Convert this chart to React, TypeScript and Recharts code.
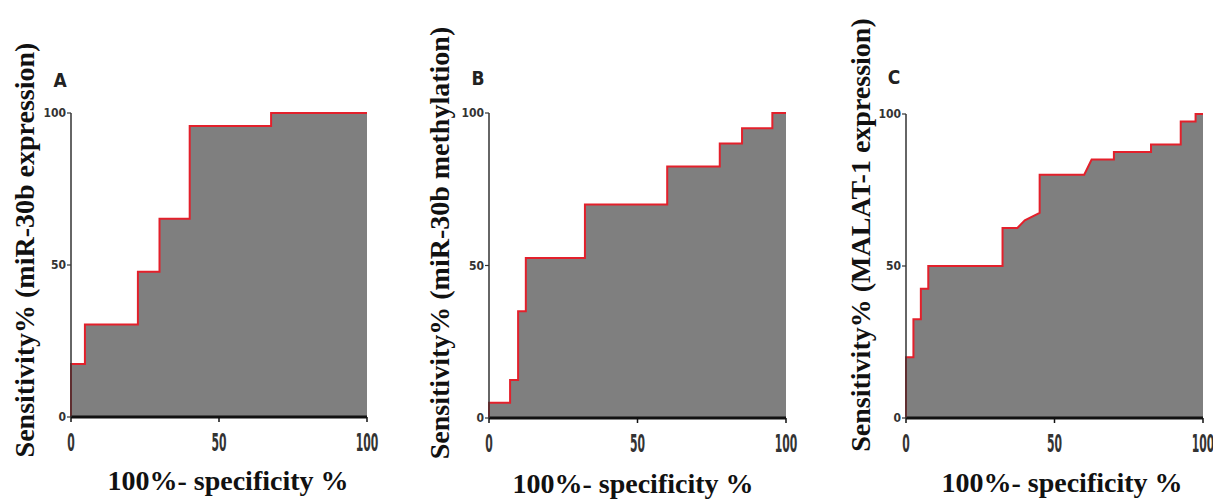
import { Area, AreaChart, XAxis, YAxis } from 'recharts';

// ROC points (1 - specificity %, sensitivity %)
const rocAX = [0, 0, 4.7, 4.7, 22.6, 22.6, 29.9, 29.9, 40.1, 40.1, 67.6, 67.6, 100];
const rocAY = [0, 17.4, 17.4, 30.4, 30.4, 47.8, 47.8, 65.2, 65.2, 95.7, 95.7, 100, 100];

const rocBX = [0, 0, 7.1, 7.1, 9.8, 9.8, 12.4, 12.4, 32.3, 32.3, 60, 60, 77.7, 77.7, 85.2, 85.2, 95.4, 95.4, 100];
const rocBY = [0, 5, 5, 12.5, 12.5, 35, 35, 52.5, 52.5, 70, 70, 82.5, 82.5, 90, 90, 95, 95, 100, 100];

const rocCX = [0, 0, 2.5, 2.5, 5, 5, 7.5, 7.5, 32.5, 32.5, 37.5, 40, 45, 45, 60, 62.5, 70, 70, 82.5, 82.5, 92.5, 92.5, 97.5, 97.5, 100];
const rocCY = [0, 20, 20, 32.5, 32.5, 42.5, 42.5, 50, 50, 62.5, 62.5, 65, 67.5, 80, 80, 85, 85, 87.5, 87.5, 90, 90, 97.5, 97.5, 100, 100];

const axisTicks = [0, 50, 100];
const panelLetters = ['A', 'B', 'C'];
const yTitles = [
    'Sensitivity% (miR-30b expression)',
    'Sensitivity% (miR-30b methylation)',
    'Sensitivity% (MALAT-1 expression)',
];
const xTitle = '100%- specificity %';

const zip = (xs: number[], ys: number[]) => xs.map((x, i) => ({ x, y: ys[i] }));

const NARROW = "'Liberation Sans Narrow', 'Arial Narrow', 'DejaVu Sans Condensed', sans-serif";
const SERIF = "'Liberation Serif', 'Times New Roman', serif";

const XTick = ({ x, y, payload }: any) => (
    <text
        x={0}
        y={0}
        transform={`translate(${x},${y + 12}) scale(1,2)`}
        textAnchor="middle"
        dy="0.71em"
        fontSize={12}
        fontFamily={NARROW}
        fontWeight="bold"
        fill="#333"
    >
        {payload.value}
    </text>
);

interface PanelProps {
    data: { x: number; y: number }[];
    left: number;
    width: number;
    margin: { top: number; right: number; bottom: number; left: number };
}

function RocPanel({ data, left, width, margin }: PanelProps) {
    return (
        <div style={{ position: 'absolute', left, top: 0 }}>
            <AreaChart width={width} height={499} data={data} margin={margin}>
                <XAxis
                    dataKey="x"
                    type="number"
                    domain={[0, 100]}
                    ticks={axisTicks}
                    height={30}
                    axisLine={{ stroke: '#111', strokeWidth: 3 }}
                    tickLine={{ stroke: '#111', strokeWidth: 1.5 }}
                    tickSize={5}
                    tickMargin={0}
                    tick={<XTick />}
                    interval={0}
                />
                <YAxis
                    type="number"
                    domain={[0, 100]}
                    ticks={axisTicks}
                    width={40}
                    axisLine={{ stroke: '#333', strokeWidth: 1.5 }}
                    tickLine={{ stroke: '#333', strokeWidth: 1.2 }}
                    tickSize={4}
                    tickMargin={1}
                    tick={{
                        fontSize: 12,
                        fontFamily: NARROW,
                        fontWeight: 'bold',
                        fill: '#333',
                    }}
                    interval={0}
                />
                <Area
                    dataKey="y"
                    type="linear"
                    stroke="#e3202b"
                    strokeWidth={2}
                    fill="#7f7f7f"
                    fillOpacity={1}
                    dot={false}
                    activeDot={false}
                    isAnimationActive={false}
                />
            </AreaChart>
        </div>
    );
}

// label placement per panel: [letter x, letter y, y title x, y title y, x title x, x title baseline]
const labelPos = [
    [60, 80, 25, 250, 228, 490],
    [478, 78, 440, 243, 633, 493],
    [894, 77, 861, 235, 1062, 492],
];

export default function App() {
    const panels = [
        { data: zip(rocAX, rocAY), left: 0, width: 400, margin: { top: 113, right: 33, bottom: 52, left: 31 } },
        { data: zip(rocBX, rocBY), left: 400, width: 420, margin: { top: 113, right: 34, bottom: 51, left: 49 } },
        { data: zip(rocCX, rocCY), left: 820, width: 393, margin: { top: 114, right: 10, bottom: 51, left: 46 } },
    ];

    return (
        <div
            style={{
                position: 'absolute',
                left: 0,
                top: 0,
                width: 1213,
                height: 499,
                background: '#fff',
                overflow: 'hidden',
            }}
        >
            {panels.map((p, i) => (
                <RocPanel key={i} {...p} />
            ))}
            {labelPos.map(([lx, ly, tx, ty, xx, xb], i) => (
                <div key={`lab-${i}`}>
                    <div
                        style={{
                            position: 'absolute',
                            left: lx,
                            top: ly,
                            transform: 'translate(-50%, -50%)',
                            fontFamily: NARROW,
                            fontWeight: 'bold',
                            fontSize: 19,
                            lineHeight: '19px',
                            color: '#222',
                        }}
                    >
                        {panelLetters[i]}
                    </div>
                    <div
                        style={{
                            position: 'absolute',
                            left: tx,
                            top: ty,
                            transform: 'translate(-50%, -50%) rotate(-90deg)',
                            whiteSpace: 'nowrap',
                            fontFamily: SERIF,
                            fontWeight: 'bold',
                            fontSize: 28,
                            lineHeight: '28px',
                            color: '#111',
                        }}
                    >
                        {yTitles[i]}
                    </div>
                    <div
                        style={{
                            position: 'absolute',
                            left: xx,
                            top: xb - 23,
                            transform: 'translateX(-50%)',
                            whiteSpace: 'nowrap',
                            fontFamily: SERIF,
                            fontWeight: 'bold',
                            fontSize: 28,
                            lineHeight: '28px',
                            color: '#111',
                        }}
                    >
                        {xTitle}
                    </div>
                </div>
            ))}
        </div>
    );
}
